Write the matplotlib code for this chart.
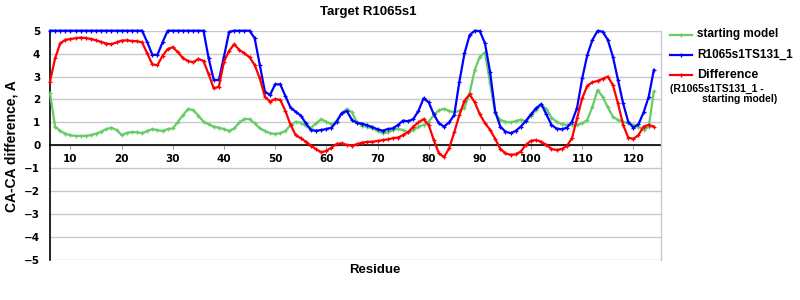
import matplotlib
matplotlib.use("Agg")
import matplotlib.pyplot as plt
from matplotlib.lines import Line2D

residues = list(range(6, 125))

starting_model = [
    2.27, 0.82, 0.63, 0.51, 0.44, 0.41, 0.41, 0.42, 0.45, 0.51,   # 6-15
    0.60, 0.71, 0.77, 0.67, 0.45, 0.54, 0.58, 0.57, 0.53, 0.63,   # 16-25
    0.71, 0.66, 0.63, 0.71, 0.74, 1.03, 1.32, 1.59, 1.53, 1.30,   # 26-35
    1.03, 0.92, 0.82, 0.77, 0.71, 0.63, 0.74, 1.00, 1.15, 1.14,   # 36-45
    0.96, 0.74, 0.63, 0.53, 0.50, 0.53, 0.63, 0.88, 1.03, 0.99,   # 46-55
    0.85, 0.77, 0.96, 1.14, 1.03, 0.92, 1.06, 1.40, 1.59, 1.44,   # 56-65
    1.00, 0.86, 0.80, 0.74, 0.63, 0.53, 0.57, 0.66, 0.73, 0.66,   # 66-75
    0.57, 0.66, 0.82, 0.89, 1.03, 1.32, 1.53, 1.60, 1.50, 1.44,   # 76-85
    1.51, 1.64, 2.27, 3.29, 3.87, 4.05, 2.70, 1.40, 1.11, 1.03,   # 86-95
    1.00, 1.06, 1.12, 1.05, 1.28, 1.54, 1.76, 1.59, 1.21, 1.03,   # 96-105
    0.93, 0.89, 0.89, 0.89, 0.96, 1.11, 1.69, 2.41, 2.12, 1.66,   # 106-115
    1.25, 1.11, 1.03, 0.96, 0.89, 0.82, 0.68, 0.80, 2.35,         # 116-124
]

model_ts131 = [
    5.00, 5.00, 5.00, 5.00, 5.00, 5.00, 5.00, 5.00, 5.00, 5.00,   # 6-15
    5.00, 5.00, 5.00, 5.00, 5.00, 5.00, 5.00, 5.00, 5.00, 4.50,   # 16-25
    3.95, 3.95, 4.50, 5.00, 5.00, 5.00, 5.00, 5.00, 5.00, 5.00,   # 26-35
    5.00, 3.80, 2.85, 2.85, 3.87, 4.95, 5.00, 5.00, 5.00, 5.00,   # 36-45
    4.67, 3.50, 2.34, 2.20, 2.66, 2.66, 2.15, 1.65, 1.47, 1.30,   # 46-55
    0.96, 0.66, 0.64, 0.67, 0.71, 0.77, 1.03, 1.40, 1.50, 1.11,   # 56-65
    0.98, 0.95, 0.87, 0.80, 0.70, 0.64, 0.71, 0.74, 0.89, 1.08,   # 66-75
    1.05, 1.15, 1.50, 2.05, 1.88, 1.35, 0.96, 0.82, 1.00, 1.33,   # 76-85
    2.78, 4.01, 4.81, 5.00, 4.98, 4.45, 3.20, 1.47, 0.82, 0.60,   # 86-95
    0.53, 0.63, 0.82, 1.07, 1.36, 1.62, 1.80, 1.35, 0.89, 0.73,   # 96-105
    0.70, 0.77, 1.03, 1.64, 2.92, 3.94, 4.60, 4.99, 4.96, 4.60,   # 106-115
    3.87, 2.85, 1.83, 1.03, 0.77, 0.92, 1.44, 2.12, 3.29,         # 116-124
]

difference = [
    2.78, 3.80, 4.45, 4.60, 4.64, 4.67, 4.70, 4.68, 4.64, 4.58,   # 6-15
    4.51, 4.44, 4.41, 4.49, 4.57, 4.58, 4.55, 4.54, 4.49, 4.01,   # 16-25
    3.53, 3.50, 3.91, 4.20, 4.28, 4.06, 3.80, 3.68, 3.62, 3.77,   # 26-35
    3.68, 3.10, 2.49, 2.56, 3.65, 4.12, 4.41, 4.16, 4.01, 3.84,   # 36-45
    3.50, 2.92, 2.12, 1.91, 2.02, 1.98, 1.50, 0.90, 0.45, 0.31,   # 46-55
    0.16, -0.01, -0.17, -0.30, -0.24, -0.10, 0.06, 0.09, 0.02, -0.01,  # 56-65
    0.05, 0.12, 0.15, 0.16, 0.19, 0.23, 0.26, 0.31, 0.34, 0.45,   # 66-75
    0.58, 0.82, 1.00, 1.14, 0.89, 0.23, -0.35, -0.51, -0.13, 0.57,  # 76-85
    1.32, 1.95, 2.22, 1.88, 1.35, 0.97, 0.68, 0.28, -0.15, -0.35,  # 86-95
    -0.41, -0.39, -0.27, 0.03, 0.20, 0.23, 0.16, 0.02, -0.16, -0.20,  # 96-105
    -0.16, -0.03, 0.31, 1.18, 2.05, 2.60, 2.75, 2.81, 2.90, 3.00,  # 106-115
    2.63, 1.83, 0.89, 0.34, 0.28, 0.45, 0.82, 0.89, 0.82,         # 116-124
]

x_ticks = list(range(10, 121, 10))
y_ticks = list(range(-5, 6))

title = "Target R1065s1"
x_label = "Residue"
y_label = "CA-CA difference, A"
legend_labels = ["starting model", "R1065s1TS131_1", "Difference"]
legend_note = ["(R1065s1TS131_1 -", "starting model)"]

GREEN = "#66CC66"
BLUE = "#0000FF"
RED = "#FF0000"
GRID = "#C8C8C8"
SANS = ["Liberation Sans", "DejaVu Sans"]

fig = plt.figure(figsize=(8, 3), dpi=100)
W, H = 800.0, 300.0
ax = fig.add_axes([50 / W, 1 - 260 / H, (661 - 50) / W, (260 - 30.7) / H])

series = [(starting_model, GREEN), (model_ts131, BLUE), (difference, RED)]
for vals, col in series:
    ax.plot(residues, vals, color=col, lw=1.6, marker="+", ms=3, mew=0.9,
            solid_joinstyle="round", zorder=3, clip_on=False)

ax.set_xlim(6, 125.4)
ax.set_ylim(-5, 5)
ax.set_yticks(y_ticks)
ax.set_xticks(x_ticks)
ax.set_yticklabels([("\u2212%d" % -v) if v < 0 else str(v) for v in y_ticks])
ax.grid(axis="y", color=GRID, lw=1)
ax.set_axisbelow(True)

ax.spines["top"].set_visible(False)
ax.spines["right"].set_color(GRID)
ax.spines["right"].set_linewidth(1)
ax.spines["left"].set_color("black")
ax.spines["left"].set_linewidth(1.2)
ax.spines["bottom"].set_position(("data", 0))
ax.spines["bottom"].set_color("black")
ax.spines["bottom"].set_linewidth(1.2)
ax.spines["bottom"].set_zorder(2)

ax.tick_params(axis="x", direction="out", length=3, color="#A0A0A0",
               pad=3, labelsize=7.5)
ax.tick_params(axis="y", length=0, pad=7, labelsize=7.5)
for lab in ax.get_xticklabels() + ax.get_yticklabels():
    lab.set_fontweight("bold")
    lab.set_family("DejaVu Sans")

fig.text(368 / W, 1 - 12 / H, title, ha="center", va="center",
         fontsize=9.5, fontweight="bold", family=SANS)
fig.text(375 / W, 1 - 270 / H, x_label, ha="center", va="center",
         fontsize=9.5, fontweight="bold", family=SANS)
fig.text(12 / W, 1 - 146 / H, y_label, ha="center", va="center",
         rotation=90, fontsize=10, fontweight="bold", family=SANS)

# legend
leg_y = [34.5, 55, 75]
for (vals, col), lab, yy in zip(series, legend_labels, leg_y):
    fy = 1 - yy / H
    fig.add_artist(Line2D([670 / W, 692 / W], [fy, fy], color=col, lw=1.6,
                          transform=fig.transFigure))
    fig.add_artist(Line2D([681 / W], [fy], color=col, marker="+", ms=3,
                          mew=0.9, transform=fig.transFigure))
    fs = 9 if lab == "Difference" else 8.5
    fig.text(697 / W, fy, lab, ha="left", va="center", fontsize=fs,
             fontweight="bold", family=SANS)
fig.text(670 / W, 1 - 88.5 / H, legend_note[0], ha="left", va="center",
         fontsize=7.5, fontweight="bold", family=SANS)
fig.text(702 / W, 1 - 98.5 / H, legend_note[1], ha="left", va="center",
         fontsize=7.5, fontweight="bold", family=SANS)

fig.savefig("out.png", dpi=100)
